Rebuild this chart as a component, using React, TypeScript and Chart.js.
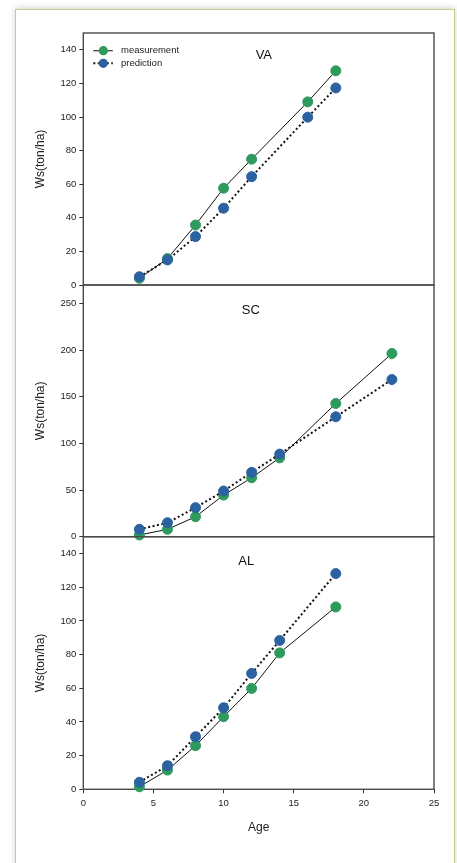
import React, { useEffect, useRef } from "react";
import { Chart, registerables } from "chart.js";

Chart.register(...registerables);

// ---------- data ----------
const xTickStep = 5;
const xMin = 0;
const xMax = 25;

const vaAge = [4, 6, 8, 10, 12, 16, 18];
const vaMeasurement = [4, 15.7, 35.7, 57.6, 74.9, 109, 127.5];
const vaPrediction = [4.9, 14.9, 28.8, 45.7, 64.5, 99.9, 117.3];

const scAge = [4, 6, 8, 10, 12, 14, 18, 22];
const scMeasurement = [1.8, 7.9, 21.4, 44.6, 63.2, 84.6, 142.9, 196.5];
const scPrediction = [7.9, 15, 31.1, 49, 69, 88.6, 128.6, 168.6];

const alAge = [4, 6, 8, 10, 12, 14, 18];
const alMeasurement = [1.5, 11.4, 25.9, 43.1, 59.9, 81, 108.3];
const alPrediction = [4.2, 14, 31.2, 48.4, 68.8, 88.4, 128.1];

const panelNames = ["VA", "SC", "AL"];
const panelNameX = [12.87, 11.94, 11.62];
const panelNameY = [136.4, 243, 135.1];
const yMaxes = [150, 270, 150];
const ySteps = [20, 50, 20];

const legendLabels = ["measurement", "prediction"];
const yTitle = "Ws(ton/ha)";
const xTitle = "Age";

// ---------- style ----------
const GREEN = "#2e9a5c";
const BLUE = "#2c62a0";
const FONT = "'Liberation Sans', Arial, sans-serif";
const TEXT = "#222";

type Spec = {
  ages: number[];
  meas: number[];
  pred: number[];
  idx: number;
  top: number;
  height: number;
  padTop: number;
  padBottom: number;
  showX: boolean;
  showLegend: boolean;
};

const framePlugin = {
  id: "frame",
  beforeDatasetsDraw(chart: any) {
    const { ctx, chartArea } = chart;
    const { left, top, right, bottom } = chartArea;
    ctx.save();
    ctx.strokeStyle = "#4a4a4a";
    ctx.lineWidth = 1.4;
    ctx.strokeRect(left, top, right - left, bottom - top);
    ctx.restore();
  },
};

function makeNamePlugin(idx: number) {
  return {
    id: "panelName" + idx,
    afterDatasetsDraw(chart: any) {
      const { ctx, scales } = chart;
      const px = scales.x.getPixelForValue(panelNameX[idx]);
      const py = scales.y.getPixelForValue(panelNameY[idx]);
      ctx.save();
      ctx.font = `13px ${FONT}`;
      ctx.fillStyle = "#111";
      ctx.textAlign = "center";
      ctx.textBaseline = "middle";
      ctx.fillText(panelNames[idx], px, py);
      ctx.restore();
    },
  };
}

const legendPlugin = {
  id: "insideLegend",
  afterDatasetsDraw(chart: any) {
    const { ctx, chartArea } = chart;
    const { left, top } = chartArea;
    const rows = [
      { label: legendLabels[0], color: GREEN, dash: [] as number[], w: 1.2 },
      { label: legendLabels[1], color: BLUE, dash: [2, 2.5], w: 2 },
    ];
    rows.forEach((r, i) => {
      const y = top + 17.7 + i * 12.6;
      ctx.save();
      ctx.strokeStyle = i === 0 ? "#333" : "#111";
      ctx.lineWidth = r.w;
      ctx.setLineDash(r.dash);
      ctx.beginPath();
      ctx.moveTo(left + 10, y);
      ctx.lineTo(left + 29.5, y);
      ctx.stroke();
      ctx.setLineDash([]);
      ctx.fillStyle = r.color;
      ctx.beginPath();
      ctx.arc(left + 20, y, 4.6, 0, Math.PI * 2);
      ctx.fill();
      ctx.font = `9.5px ${FONT}`;
      ctx.fillStyle = TEXT;
      ctx.textAlign = "left";
      ctx.textBaseline = "middle";
      ctx.fillText(r.label, left + 37.7, y);
      ctx.restore();
    });
  },
};

function Panel({ spec }: { spec: Spec }) {
  const ref = useRef<HTMLCanvasElement | null>(null);
  useEffect(() => {
    if (!ref.current) return;
    const toPts = (vals: number[]) => spec.ages.map((a, i) => ({ x: a, y: vals[i] }));
    const plugins: any[] = [framePlugin, makeNamePlugin(spec.idx)];
    if (spec.showLegend) plugins.push(legendPlugin);
    const chart = new Chart(ref.current, {
      type: "line",
      data: {
        datasets: [
          {
            label: legendLabels[1],
            data: toPts(spec.pred),
            borderColor: "#111",
            borderWidth: 2,
            borderDash: [2, 2.5],
            pointBackgroundColor: BLUE,
            pointBorderColor: BLUE,
            pointBorderWidth: 1,
            pointRadius: 5,
            tension: 0,
            clip: false as any,
          },
          {
            label: legendLabels[0],
            data: toPts(spec.meas),
            borderColor: "#111",
            borderWidth: 1,
            pointBackgroundColor: GREEN,
            pointBorderColor: GREEN,
            pointBorderWidth: 1,
            pointRadius: 5,
            tension: 0,
            clip: false as any,
          },
        ],
      },
      options: {
        responsive: false,
        animation: false,
        events: [],
        layout: {
          padding: { left: 0, right: 23, top: spec.padTop, bottom: spec.padBottom },
        },
        plugins: {
          legend: { display: false },
          tooltip: { enabled: false },
        },
        scales: {
          x: {
            type: "linear",
            min: xMin,
            max: xMax,
            display: spec.showX,
            ticks: {
              stepSize: xTickStep,
              color: TEXT,
              font: { family: FONT, size: 9.5 },
              padding: 4,
              maxRotation: 0,
            },
            grid: { drawOnChartArea: false, tickLength: 4, color: "#333" },
            border: { display: false },
            title: {
              display: true,
              text: xTitle,
              color: TEXT,
              font: { family: FONT, size: 12 },
              padding: { top: 0, bottom: 0 },
            },
            afterFit: (s: any) => {
              s.height = spec.showX ? 45.7 : 0;
            },
          },
          y: {
            type: "linear",
            min: 0,
            max: yMaxes[spec.idx],
            ticks: {
              stepSize: ySteps[spec.idx],
              includeBounds: false,
              color: TEXT,
              font: { family: FONT, size: 9.5 },
              padding: 3,
            },
            grid: { drawOnChartArea: false, tickLength: 4, color: "#333" },
            border: { display: false },
            title: {
              display: true,
              text: yTitle,
              color: TEXT,
              font: { family: FONT, size: 12 },
              padding: { top: 33.3, bottom: 0 },
            },
            afterFit: (s: any) => {
              s.width = 83.3;
            },
          },
        },
      } as any,
      plugins,
    });
    return () => chart.destroy();
  }, [spec]);
  return (
    <canvas
      ref={ref}
      width={457}
      height={spec.height}
      style={{ position: "absolute", left: 0, top: spec.top, width: 457, height: spec.height, display: "block" }}
    />
  );
}

const specs: Spec[] = [
  { ages: vaAge, meas: vaMeasurement, pred: vaPrediction, idx: 0, top: 0, height: 300, padTop: 33, padBottom: 15, showX: false, showLegend: true },
  { ages: scAge, meas: scMeasurement, pred: scPrediction, idx: 1, top: 270, height: 285, padTop: 15, padBottom: 18.3, showX: false, showLegend: false },
  { ages: alAge, meas: alMeasurement, pred: alPrediction, idx: 2, top: 522, height: 313, padTop: 14.7, padBottom: 0, showX: true, showLegend: false },
];

export default function App() {
  return (
    <div style={{ position: "absolute", left: 0, top: 0, width: 457, height: 863, background: "#fff", overflow: "hidden" }}>
      <div
        style={{
          position: "absolute",
          left: 15,
          top: 9,
          width: 440,
          height: 900,
          boxSizing: "border-box",
          border: "1.5px solid #c2cd87",
          boxShadow: "0 -1px 7px rgba(0,0,0,0.18)",
          background: "#fff",
        }}
      />
      {specs.map((s) => (
        <Panel key={s.idx} spec={s} />
      ))}
    </div>
  );
}
